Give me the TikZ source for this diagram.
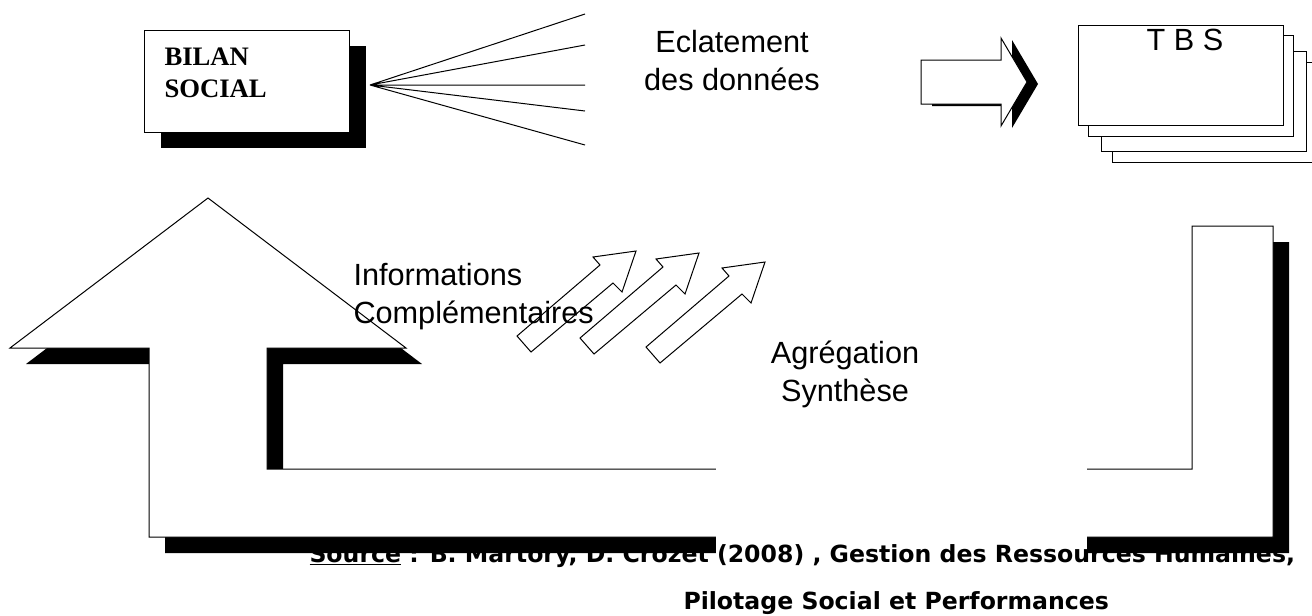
\documentclass[tikz,border=0pt]{standalone}
\usepackage{fontspec}
\setmainfont{Liberation Serif}
\newfontfamily\labelfont{Liberation Sans}
\newfontfamily\sourcefont{DejaVu Sans}
\tikzset{every picture/.style={line width=0.75pt}}
\tikzset{
  dropshade/.style={fill=black, draw=none},
  shapefill/.style={draw=black, fill=white},
  lbl/.style={inner sep=0.75pt, font=\labelfont\fontsize{23}{28.5}\selectfont},
  srcline/.style={inner sep=0pt, font=\sourcefont\bfseries\fontsize{17.7}{21}\selectfont}
}

\begin{document}
\begin{tikzpicture}[x=0.75pt,y=0.75pt,yscale=-1,xscale=1]
\useasboundingbox (0,0) rectangle (1312,615);

%Shape: U Arrow shadow
\fill [dropshade, shift={(16,16)}] (208,198) -- (406,348) -- (267,348) -- (267,469) -- (1192,469) -- (1192,226) -- (1273,226) -- (1273,537) -- (149,537) -- (149,348) -- (10,348) -- cycle ;
%Shape: U Arrow
\draw [shapefill] (208,198) -- (406,348) -- (267,348) -- (267,469) -- (1192,469) -- (1192,226) -- (1273,226) -- (1273,537) -- (149,537) -- (149,348) -- (10,348) -- cycle ;
%Shape: cover under Agregation text
\fill [white] (716,455) rectangle (1087,557) ;

%Shape: Rectangle shadow [bilan]
\fill [dropshade] (161,46) rectangle (366,148) ;
%Shape: Rectangle [bilan]
\draw [shapefill] (144,30) rectangle (349,132) ;

%Straight Lines [fan]
\coordinate (fan) at (370,85) ;
\coordinate (f1) at (585,14) ;
\coordinate (f2) at (585,45) ;
\coordinate (f3) at (585,85) ;
\coordinate (f4) at (585,111) ;
\coordinate (f5) at (585,145) ;
\draw (fan) -- (f1) (fan) -- (f2) (fan) -- (f3) (fan) -- (f4) (fan) -- (f5) ;

%Shape: Right Arrow shadow
\fill [dropshade, shift={(11,2)}] (921,60) -- (1001,60) -- (1001,38) -- (1027,82) -- (1001,126) -- (1001,104) -- (921,104) -- cycle ;
%Shape: Right Arrow
\draw [shapefill] (921,60) -- (1001,60) -- (1001,38) -- (1027,82) -- (1001,126) -- (1001,104) -- (921,104) -- cycle ;

%Shape: Rectangle stack [tbs]
\draw [shapefill] (1112,62) rectangle (1324,162) ;
\draw [shapefill] (1101,51) rectangle (1306,151) ;
\draw [shapefill] (1088,35) rectangle (1293,136) ;
\draw [shapefill] (1078,25) rectangle (1283,125) ;

%Shape: small Arrows
\draw [shapefill, shift={(517,336)}] (0,0) -- (83,-71) -- (76,-79) -- (119,-85) -- (105,-44) -- (96,-53) -- (14,16) -- cycle ;
\draw [shapefill, shift={(580,338)}] (0,0) -- (83,-71) -- (76,-79) -- (119,-85) -- (105,-44) -- (96,-53) -- (14,16) -- cycle ;
\draw [shapefill, shift={(646,347)}] (0,0) -- (83,-71) -- (76,-79) -- (119,-85) -- (105,-44) -- (96,-53) -- (14,16) -- cycle ;

% Text Node
\draw (163,46) node (bilan) [anchor=north west][inner sep=0.75pt] [font=\bfseries\fontsize{20}{24}\selectfont] [align=left] {BILAN\\SOCIAL};
% Text Node
\draw (732,29) node (eclat) [anchor=north][lbl] [align=center] {Eclatement\\des données};
% Text Node
\draw (1185,28) node (tbs) [anchor=north][lbl] {T B S};
% Text Node
\draw (352,262) node (info) [anchor=north west][lbl] [align=left] {Informations\\Complémentaires};
% Text Node
\draw (845,339) node (agreg) [anchor=north][lbl] [align=center] {Agrégation\\Synthèse};
% Text Node
\draw (309,562) node (src) [anchor=base west][srcline] {\underline{Source} : B. Martory, D. Crozet (2008) , Gestion des Ressources Humaines,};
% Text Node
\draw (683,609) node (srcb) [anchor=base west][srcline] {Pilotage Social et Performances};

\end{tikzpicture}
\end{document}
